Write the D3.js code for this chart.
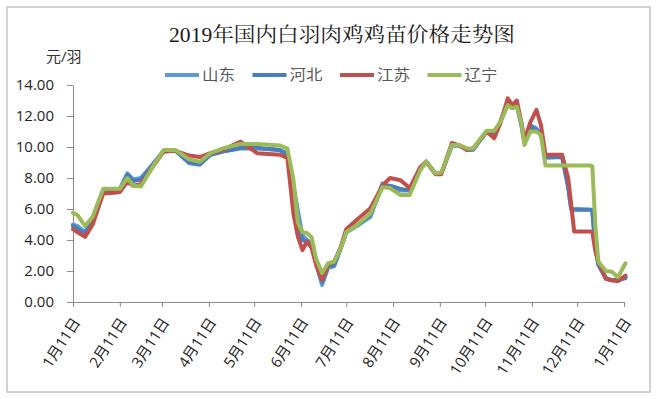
<!DOCTYPE html>
<html>
<head>
<meta charset="utf-8">
<script src="https://cdn.jsdelivr.net/npm/d3@7"></script>
<style>
    body { margin: 0; background: #fff; }
    text { font-family: "Open Sans", "Noto Sans CJK SC", sans-serif; }
</style>
</head>
<body>
<div id="chart"></div>
<script>
// 日期（与各省价格一一对应）
const dates = [
    "2019-01-11", "2019-01-14", "2019-01-19", "2019-01-24", "2019-01-31", "2019-02-07", "2019-02-11",
    "2019-02-16", "2019-02-20", "2019-02-25", "2019-03-04", "2019-03-12", "2019-03-20", "2019-03-29",
    "2019-04-05", "2019-04-12", "2019-04-20", "2019-05-02", "2019-05-13", "2019-05-28", "2019-06-02",
    "2019-06-06", "2019-06-09", "2019-06-12", "2019-06-15", "2019-06-18", "2019-06-21", "2019-06-25",
    "2019-06-29", "2019-07-03", "2019-07-07", "2019-07-11", "2019-07-18", "2019-07-27", "2019-08-04",
    "2019-08-09", "2019-08-16", "2019-08-22", "2019-08-29", "2019-09-02", "2019-09-08", "2019-09-12",
    "2019-09-19", "2019-09-24", "2019-09-29", "2019-10-03", "2019-10-12", "2019-10-17", "2019-10-21",
    "2019-10-26", "2019-10-29", "2019-11-01", "2019-11-04", "2019-11-06", "2019-11-10", "2019-11-14",
    "2019-11-17", "2019-11-20", "2019-12-01", "2019-12-05", "2019-12-07", "2019-12-09", "2019-12-20",
    "2019-12-21", "2019-12-23", "2019-12-25", "2019-12-30", "2020-01-03", "2020-01-07", "2020-01-12"
];
// 山东
const shandong = [
    5.0, 4.9, 4.5, 5.4, 7.2, 7.2, 7.3, 8.3, 7.9, 8.0, 8.8, 9.75, 9.75, 8.95,
    8.85, 9.5, 9.7, 9.9, 9.9, 9.8, 9.6, 7.5, 5.9, 4.3, 4.0, 3.8, 2.5, 1.1,
    2.2, 2.3, 3.35, 4.5, 4.9, 5.5, 7.66, 7.4, 7.2, 7.2, 8.6, 9.05, 8.3, 8.3,
    10.1, 10.1, 9.8, 9.8, 11.0, 10.77, 11.6, 12.9, 12.6, 12.7, 11.4, 10.3, 11.4, 11.2,
    10.8, 9.4, 9.4, 7.5, 6.0, 6.0, 5.95, 5.9, 3.6, 2.5, 1.55, 1.4, 1.45, 1.6
];
// 河北
const hebei = [
    4.9, 4.75, 4.4, 5.3, 7.2, 7.2, 7.25, 8.2, 7.8, 7.9, 8.7, 9.75, 9.75, 9.0,
    8.9, 9.5, 9.7, 9.95, 9.95, 9.8, 9.5, 7.0, 5.0, 4.0, 3.9, 3.7, 2.6, 1.3,
    2.3, 2.4, 3.4, 4.5, 4.95, 5.6, 7.5, 7.5, 7.3, 7.2, 8.6, 9.05, 8.3, 8.3,
    10.1, 10.1, 9.85, 9.85, 11.0, 10.8, 11.6, 12.9, 12.6, 12.7, 11.5, 10.3, 11.3, 11.1,
    10.8, 9.3, 9.35, 7.4, 6.0, 5.95, 5.95, 5.9, 3.5, 2.4, 1.5, 1.4, 1.4, 1.55
];
// 江苏
const jiangsu = [
    4.7, 4.5, 4.2, 5.0, 7.0, 7.05, 7.1, 7.75, 7.5, 7.6, 8.6, 9.7, 9.75, 9.45,
    9.35, 9.6, 9.8, 10.35, 9.6, 9.5, 9.3, 5.7, 4.2, 3.35, 3.9, 3.5, 2.4, 1.42,
    2.4, 2.6, 3.45, 4.7, 5.3, 6.05, 7.5, 8.0, 7.85, 7.35, 8.7, 9.05, 8.25, 8.25,
    10.26, 10.1, 9.8, 9.9, 11.0, 10.56, 11.5, 13.14, 12.7, 13.0, 11.6, 10.45, 11.6, 12.4,
    11.4, 9.5, 9.5, 8.0, 6.3, 4.55, 4.55, 4.5, 3.3, 2.6, 1.5, 1.4, 1.35, 1.7
];
// 辽宁
const liaoning = [
    5.75, 5.6, 4.9, 5.5, 7.3, 7.3, 7.3, 8.0, 7.5, 7.45, 8.6, 9.8, 9.8, 9.2,
    9.05, 9.6, 9.9, 10.2, 10.2, 10.1, 9.9, 7.9, 5.1, 4.5, 4.45, 4.2, 2.8, 1.87,
    2.5, 2.6, 3.4, 4.5, 4.95, 5.7, 7.4, 7.35, 6.9, 6.9, 8.5, 9.05, 8.3, 8.35,
    10.13, 10.13, 9.9, 9.9, 11.05, 11.05, 11.6, 12.7, 12.5, 12.6, 11.6, 10.13, 11.0, 11.0,
    10.77, 8.8, 8.8, 8.8, 8.8, 8.8, 8.8, 8.75, 5.0, 2.6, 2.0, 1.95, 1.6, 2.5
];
const seriesNames = ["山东", "河北", "江苏", "辽宁"];
const seriesColors = ["#5B9BD5", "#4A7EBB", "#C0504D", "#9BBB59"];
const yTicks = [0, 2, 4, 6, 8, 10, 12, 14];
const xTicks = [
    "2019-01-11", "2019-02-11", "2019-03-11", "2019-04-11", "2019-05-11", "2019-06-11", "2019-07-11",
    "2019-08-11", "2019-09-11", "2019-10-11", "2019-11-11", "2019-12-11", "2020-01-11"
];

(function () {
    let width = 657, height = 399;
    let left = 73, right = 624, top = 85, bottom = 302;
    let parse = d3.timeParse("%Y-%m-%d");

    let svg = d3.select("#chart").append("svg")
        .attr("width", width)
        .attr("height", height);

    // 外框
    svg.append("rect")
        .attr("x", 7).attr("y", 7)
        .attr("width", 643).attr("height", 385)
        .attr("fill", "none")
        .attr("stroke", "#c4c4c4")
        .attr("stroke-width", 1.5);

    svg.append("text")
        .attr("x", 342).attr("y", 42)
        .attr("text-anchor", "middle")
        .attr("textLength", 346)
        .attr("lengthAdjust", "spacingAndGlyphs")
        .style("font-family", "'Liberation Serif', 'Noto Serif CJK SC', 'Noto Sans CJK SC', serif")
        .style("font-size", "20px")
        .attr("fill", "#1a1a1a")
        .text("2019年国内白羽肉鸡鸡苗价格走势图");

    svg.append("text")
        .attr("x", 46).attr("y", 62)
        .style("font-size", "15px")
        .attr("fill", "#333")
        .text("元/羽");

    let x = d3.scaleTime()
        .domain([parse(xTicks[0]), parse(xTicks[xTicks.length - 1])])
        .range([left, right]);
    let y = d3.scaleLinear()
        .domain([0, 14])
        .range([bottom, top]);

    let yAxis = svg.append("g")
        .attr("transform", "translate(" + left + ",0)")
        .call(d3.axisLeft(y).tickValues(yTicks).tickSize(6).tickSizeOuter(0).tickPadding(13)
            .tickFormat(d3.format(".2f")));
    yAxis.selectAll("text")
        .style("font-size", "15px")
        .attr("fill", "#262626");

    let xAxis = svg.append("g")
        .attr("transform", "translate(0," + bottom + ")")
        .call(d3.axisBottom(x).tickValues(xTicks.map(parse)).tickSize(5).tickSizeOuter(0)
            .tickFormat(d3.timeFormat("%-m月%-d日")));
    xAxis.selectAll("text")
        .style("font-size", "15px")
        .attr("fill", "#262626")
        .attr("text-anchor", "end")
        .attr("dy", "0.35em")
        .attr("transform", "translate(-2,14) rotate(-57)")
        .attr("y", 6).attr("x", 0);

    svg.selectAll(".domain, .tick line").attr("stroke", "#8c8c8c");

    let series = [shandong, hebei, jiangsu, liaoning];
    let line = d3.line()
        .x((d, i) => x(parse(dates[i])))
        .y(d => y(d));

    svg.append("g")
        .selectAll("path")
        .data(series)
        .enter()
        .append("path")
        .attr("d", line)
        .attr("fill", "none")
        .attr("stroke", (d, i) => seriesColors[i])
        .attr("stroke-width", 4)
        .attr("stroke-linejoin", "round")
        .attr("stroke-linecap", "round");

    // 图例
    let legend = svg.append("g")
        .selectAll("g")
        .data(seriesNames)
        .enter()
        .append("g")
        .attr("transform", (d, i) => "translate(" + (165 + i * 87.5) + ",75)");
    legend.append("line")
        .attr("x1", 0).attr("x2", 34)
        .attr("stroke", (d, i) => seriesColors[i])
        .attr("stroke-width", 4);
    legend.append("text")
        .attr("x", 37).attr("dy", "0.35em")
        .attr("textLength", 33)
        .attr("lengthAdjust", "spacingAndGlyphs")
        .style("font-size", "15px")
        .attr("fill", "#595959")
        .text(d => d);
})();
</script>
</body>
</html>
